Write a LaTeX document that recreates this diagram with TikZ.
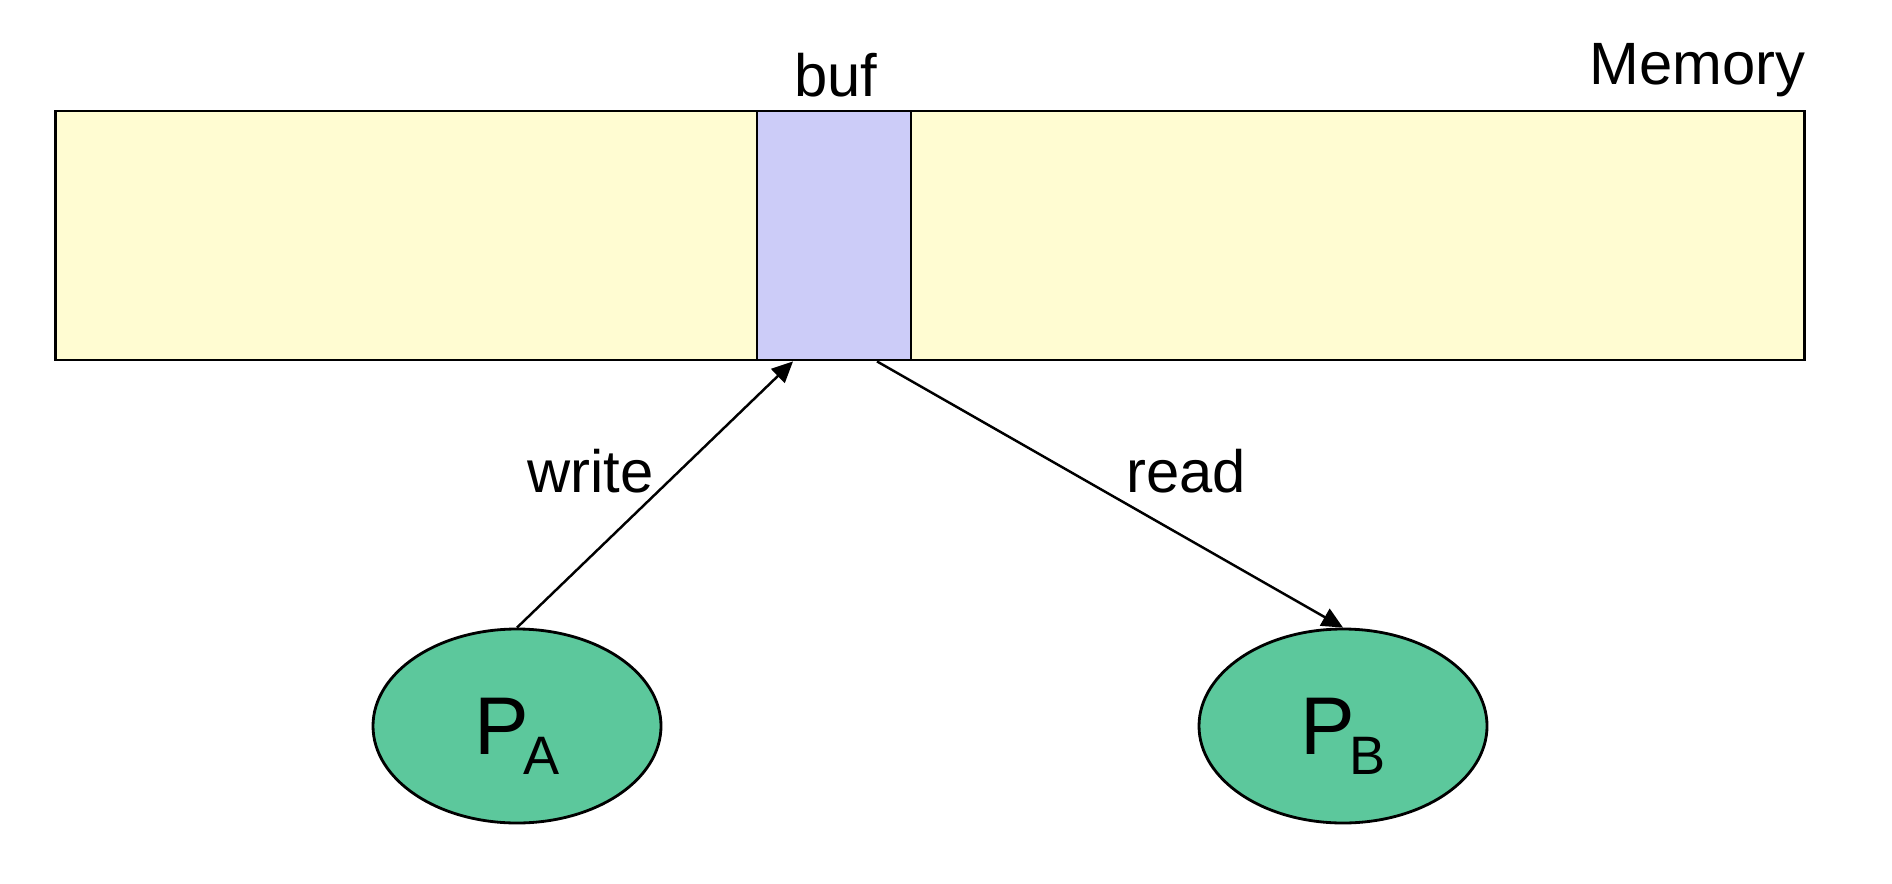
\documentclass[tikz,border=0pt]{standalone}
\usepackage{fontspec}
\setmainfont{Liberation Sans}
\usetikzlibrary{shapes.geometric, arrows.meta, positioning}
\definecolor{memyellow}{HTML}{FFFCD2}
\definecolor{bufblue}{HTML}{CCCCF8}
\definecolor{procgreen}{HTML}{5CC89C}
\newcommand{\proclbl}[2]{#1\kern-1.5pt\raisebox{-5.8pt}[0pt][0pt]{\fontsize{15.4}{18}\selectfont #2}}

\begin{document}
\begin{tikzpicture}[on grid,
    mem/.style={draw, line width=0.8pt, fill=memyellow, minimum width=17.49cm, minimum height=2.49cm, inner sep=0pt},
    bufbox/.style={draw, line width=0.8pt, fill=bufblue, minimum width=1.54cm, minimum height=2.49cm, inner sep=0pt},
    proc/.style={ellipse, draw, line width=0.8pt, fill=procgreen, minimum width=2.88cm, minimum height=1.94cm, inner sep=0pt, font=\fontsize{23.3}{28}\selectfont},
    lbl/.style={inner sep=0pt, font=\fontsize{17}{20}\selectfont}]
    \useasboundingbox (0,0) rectangle (18.92,-8.84);

    \node[mem] (mem) at (9.303,-2.355) {};
    \node[bufbox] (buf) at (8.34,-2.355) {};
    \node[lbl, anchor=base] (buflbl) at (8.36,-0.965) {buf};
    \node[lbl, anchor=base east] (memlbl) at (18.06,-0.845) {Memory};

    \node[proc] (PA) at (5.17,-7.26) {\proclbl{P}{A}};
    \node[proc, right=8.26cm of PA] (PB) {\proclbl{P}{B}};

    \path[-{Triangle[length=6pt,width=5.5pt]}, line width=0.7pt]
    (PA.north) edge node[lbl, pos=0.5, above left] {write} ([xshift=-0.41cm]buf.south)
    ([xshift=0.43cm]buf.south) edge node[lbl, pos=0.5, above right, xshift=0.15cm] {read} (PB.north);
\end{tikzpicture}
\end{document}
